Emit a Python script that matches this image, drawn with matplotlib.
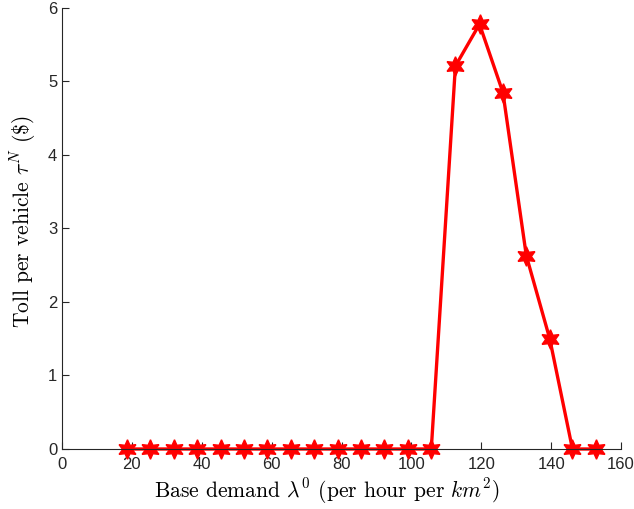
import numpy as np
import matplotlib
matplotlib.use("Agg")
import matplotlib.pyplot as plt

# base demand values and resulting toll
demand = [18.6, 25.3, 32.0, 38.7, 45.4, 52.1, 58.8, 65.5, 72.2, 78.9, 85.6,
          92.3, 99.0, 105.7, 112.6, 119.5, 126.2, 132.9, 139.6, 146.1, 152.8]
toll = [0, 0, 0, 0, 0, 0, 0, 0, 0, 0, 0, 0, 0, 0,
        5.21, 5.78, 4.85, 2.63, 1.50, 0, 0]

plt.rcParams['mathtext.fontset'] = 'cm'

fig = plt.figure(figsize=(6.34, 5.09), dpi=100)
ax = fig.add_axes([0.0978, 0.1179, 0.8817, 0.8664])

ax.plot(demand, toll, color='red', linewidth=2.4, marker=(6, 1, 0),
        markersize=14, markerfacecolor='red', markeredgecolor='red', clip_on=False)

ax.set_xlim(0, 160)
ax.set_ylim(0, 6)
ax.set_xticks(np.arange(0, 161, 20))
ax.set_yticks(np.arange(0, 7, 1))
for s in ['top', 'right']:
    ax.spines[s].set_visible(False)
for s in ['left', 'bottom']:
    ax.spines[s].set_color('#262626')
    ax.spines[s].set_linewidth(0.8)
ax.tick_params(direction='in', length=5, width=0.8, colors='#262626', labelsize=12)
ax.tick_params(axis='x', pad=6)
for lbl in ax.get_xticklabels() + ax.get_yticklabels():
    lbl.set_fontfamily('Liberation Sans')

ax.set_xlabel(r'Base demand $\lambda^0$ (per hour per $km^2$)', fontsize=15.5,
              fontfamily='cmr10', labelpad=3)
ax.set_ylabel(r'Toll per vehicle $\tau^N$ (\$)', fontsize=15.5,
              fontfamily='cmr10', labelpad=7)
ax.xaxis.label.set_x(0.474)
ax.yaxis.label.set_y(0.515)

fig.savefig('out.png', dpi=100)
